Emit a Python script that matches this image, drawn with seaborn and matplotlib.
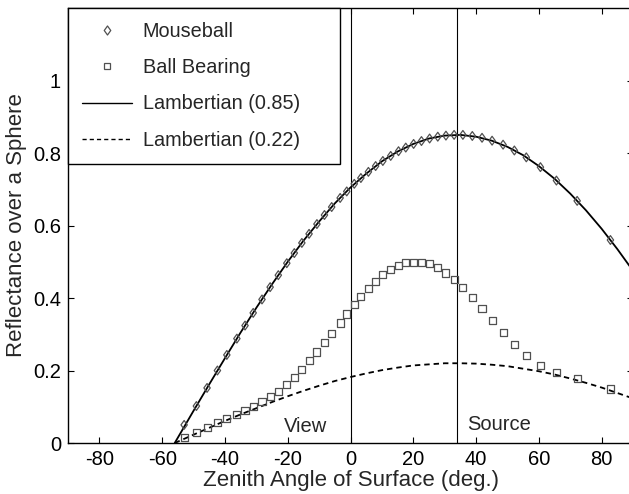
import matplotlib
matplotlib.use("Agg")
import matplotlib.pyplot as plt
from matplotlib.lines import Line2D
from matplotlib.path import Path
import seaborn as sns
import pandas as pd

# ---- data ----
sample_angle = [-53.0, -49.1, -45.7, -42.4, -39.4, -36.2, -33.6, -31.0, -28.2, -25.6,
                -23.0, -20.3, -17.9, -15.5, -13.2, -10.7, -8.3, -6.0, -3.3, -1.2,
                1.2, 3.3, 5.7, 8.0, 10.3, 12.8, 15.3, 17.6, 20.1, 22.6,
                25.2, 27.8, 30.4, 33.0, 35.8, 38.8, 41.9, 45.1, 48.6, 52.2,
                56.0, 60.5, 65.6, 72.2, 82.8]
mouseball = [0.050, 0.102, 0.152, 0.200, 0.243, 0.288, 0.324, 0.359, 0.396, 0.430,
             0.463, 0.496, 0.524, 0.552, 0.577, 0.604, 0.629, 0.651, 0.676, 0.694,
             0.715, 0.731, 0.748, 0.764, 0.778, 0.792, 0.805, 0.815, 0.825, 0.833,
             0.840, 0.845, 0.848, 0.850, 0.850, 0.847, 0.842, 0.834, 0.823, 0.807,
             0.788, 0.761, 0.724, 0.668, 0.560]
ball_bearing = [0.016, 0.029, 0.044, 0.057, 0.067, 0.078, 0.090, 0.101, 0.114, 0.128,
                0.142, 0.161, 0.181, 0.203, 0.227, 0.251, 0.277, 0.303, 0.331, 0.356,
                0.382, 0.405, 0.427, 0.446, 0.465, 0.479, 0.489, 0.497, 0.499, 0.499,
                0.494, 0.484, 0.469, 0.450, 0.428, 0.401, 0.371, 0.339, 0.304, 0.272,
                0.242, 0.215, 0.195, 0.177, 0.149]

model_angle = [-56, -50, -45, -40, -35, -30, -25, -20, -15, -10, -5, 0, 5, 10, 15, 20,
               25, 30, 35, 40, 45, 50, 55, 60, 65, 70, 75, 80, 85, 90]
lambert_085 = [0.000, 0.089, 0.162, 0.234, 0.305, 0.373, 0.438, 0.500, 0.558, 0.611,
               0.661, 0.705, 0.743, 0.777, 0.804, 0.825, 0.840, 0.848, 0.850, 0.845,
               0.834, 0.817, 0.794, 0.764, 0.729, 0.688, 0.642, 0.591, 0.535, 0.475]
lambert_022 = [0.000, 0.023, 0.042, 0.061, 0.079, 0.096, 0.113, 0.129, 0.144, 0.158,
               0.171, 0.182, 0.192, 0.201, 0.208, 0.214, 0.217, 0.220, 0.220, 0.219,
               0.216, 0.212, 0.205, 0.198, 0.189, 0.178, 0.166, 0.153, 0.138, 0.123]

view_angle = 0
source_angle = 34
x_ticks = [-80, -60, -40, -20, 0, 20, 40, 60, 80]
y_ticks = [0, 0.2, 0.4, 0.6, 0.8, 1.0]
y_tick_labels = ["0", "0.2", "0.4", "0.6", "0.8", "1"]
legend_labels = ["Mouseball", "Ball Bearing", "Lambertian (0.85)", "Lambertian (0.22)"]

# ---- style ----
sns.set_theme(style="ticks")
plt.rcParams["font.family"] = ["Liberation Sans", "DejaVu Sans"]
plt.rcParams["axes.unicode_minus"] = False
plt.rcParams["xtick.direction"] = "in"
plt.rcParams["ytick.direction"] = "in"

samples = pd.DataFrame({"angle": sample_angle, "mouseball": mouseball,
                        "bearing": ball_bearing})
model = pd.DataFrame({"angle": model_angle, "l85": lambert_085, "l22": lambert_022})

fig = plt.figure(figsize=(6.29, 4.94), dpi=100)
ax = fig.add_axes([0.1081, 0.1032, 0.8983, 0.8806])

diamond = Path([(0, 1), (0.72, 0), (0, -1), (-0.72, 0), (0, 1)],
               [Path.MOVETO, Path.LINETO, Path.LINETO, Path.LINETO, Path.CLOSEPOLY])
mk_col = "#505050"

ax.axvline(view_angle, color="black", lw=0.8, zorder=1)
ax.axvline(source_angle, color="black", lw=0.8, zorder=1)

sns.lineplot(data=model, x="angle", y="l85", ax=ax, color="black", lw=1.3,
             zorder=2, sort=False)
sns.lineplot(data=model, x="angle", y="l22", ax=ax, color="black", lw=1.3,
             linestyle=(0, (3, 2.2)), zorder=2, sort=False)
sns.scatterplot(data=samples, x="angle", y="mouseball", ax=ax, marker=diamond,
                s=40, facecolor="none", edgecolor=mk_col, linewidth=0.9, zorder=3)
sns.scatterplot(data=samples, x="angle", y="bearing", ax=ax, marker="s",
                s=26, facecolor="none", edgecolor=mk_col, linewidth=0.9, zorder=3)

ax.text(-7.5, 0.03, "View", ha="right", va="baseline", fontsize=14.5)
ax.text(37.3, 0.035, "Source", ha="left", va="baseline", fontsize=14.5)

ax.set_xlim(-90, 90)
ax.set_ylim(0, 1.2)
ax.set_xticks(x_ticks)
ax.set_yticks(y_ticks)
ax.set_yticklabels(y_tick_labels)
ax.tick_params(axis="both", which="major", direction="in", length=4, width=0.8,
               labelsize=14.5, top=True, right=True, pad=5, colors="black")
for sp in ax.spines.values():
    sp.set_visible(True)
    sp.set_linewidth(1.0)
    sp.set_color("black")
ax.set_xlabel("Zenith Angle of Surface (deg.)", fontsize=16, labelpad=1)
ax.set_ylabel("Reflectance over a Sphere", fontsize=16, labelpad=4)

handles = [
    Line2D([], [], linestyle="none", marker=diamond, markersize=6.5,
           markerfacecolor="none", markeredgecolor=mk_col, markeredgewidth=0.9),
    Line2D([], [], linestyle="none", marker="s", markersize=4.8,
           markerfacecolor="none", markeredgecolor=mk_col, markeredgewidth=0.9),
    Line2D([], [], color="black", lw=1.0),
    Line2D([], [], color="black", lw=1.0, linestyle=(0, (3, 2.2))),
]
leg = ax.legend(handles, legend_labels, loc="upper left",
                bbox_to_anchor=(0.0, 0.0, 0.481, 1.0), mode="expand",
                borderaxespad=0, fontsize=14.3, frameon=True, fancybox=False,
                edgecolor="black", framealpha=1, handlelength=2.5,
                handletextpad=0.55, labelspacing=0.86, borderpad=0.72)
leg.get_frame().set_linewidth(1.0)

fig.savefig("out.png", dpi=100)
